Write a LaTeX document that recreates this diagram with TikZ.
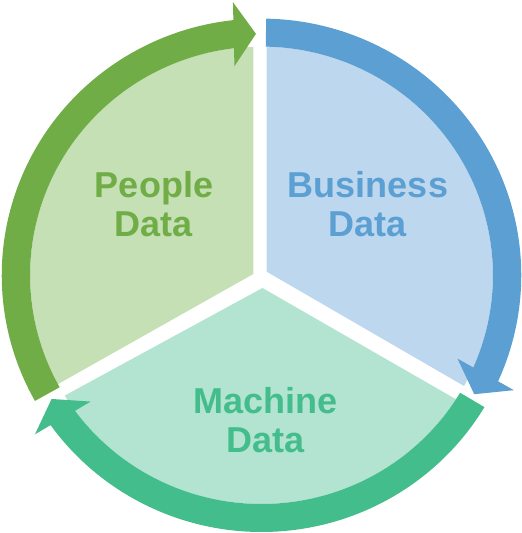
\documentclass[tikz,border=0pt]{standalone}
\usepackage{fontspec}
\setmainfont{Liberation Sans}
\definecolor{gdark}{HTML}{70AD47}
\definecolor{glight}{HTML}{C5E0B4}
\definecolor{bdark}{HTML}{5B9FD3}
\definecolor{blight}{HTML}{BDD7EE}
\definecolor{mdark}{HTML}{43BD8C}
\definecolor{mlight}{HTML}{B3E3D1}
\tikzset{
  lbl/.style={font=\fontsize{36}{39.3}\selectfont\bfseries, align=center, inner sep=0pt, anchor=north},
  disk/.style={x radius=231.4, y radius=228.7}
}
\begin{document}
\begin{tikzpicture}[x=1pt,y=1pt]
\useasboundingbox (0,0) rectangle (522,533);
\coordinate (C) at (261.5,257.7);
% sectors
\begin{scope}
\clip (266.5,261.4) -- (266.5,540) -- (540,540) -- (540,103.0) -- cycle;
\fill[blight] (C) ellipse [disk];
\end{scope}
\begin{scope}
\clip (253.3,259) -- (253.3,540) -- (-10,540) -- (-10,110.6) -- cycle;
\fill[glight] (C) ellipse [disk];
\end{scope}
\begin{scope}
\clip (262.5,245) -- (-10,96.8) -- (-10,-10) -- (540,-10) -- (540,85.4) -- cycle;
\fill[mlight] (C) ellipse [disk];
\end{scope}
% arrows
\begin{scope}[shift={(261.5,257.7)}, xscale=1.012]
\fill[bdark] (88.95:256.7) arc[start angle=88.95, end angle=-24.39, radius=256.7]
  -- (249.39,-114.86) -- (210.19,-118.92) -- (193.69,-83.34)
  -- (-23.775:228.7) arc[start angle=-23.775, end angle=88.95, radius=228.7] -- cycle;
\fill[mdark] (-30.9:256.7) arc[start angle=-30.9, end angle=-144.29, radius=256.7]
  -- (-223.84,-159.04) -- (-207.44,-123.66) -- (-168.86,-126.27)
  -- (-143.68:228.7) arc[start angle=-143.68, end angle=-30.9, radius=228.7] -- cycle;
\fill[gdark] (209.3:256.7) arc[start angle=209.3, end angle=96.22, radius=256.7]
  -- (-28.20,273.13) -- (-5.48,241.44) -- (-26.74,209.15)
  -- (96.82:228.7) arc[start angle=96.82, end angle=209.3, radius=228.7] -- cycle;
\end{scope}
% labels
\node[lbl, text=gdark] (people) at (154,362.1) {People\\Data};
\node[lbl, text=bdark] (business) at (368,362.1) {Business\\Data};
\node[lbl, text=mdark] (machine) at (265.5,146.1) {Machine\\Data};
\end{tikzpicture}
\end{document}
